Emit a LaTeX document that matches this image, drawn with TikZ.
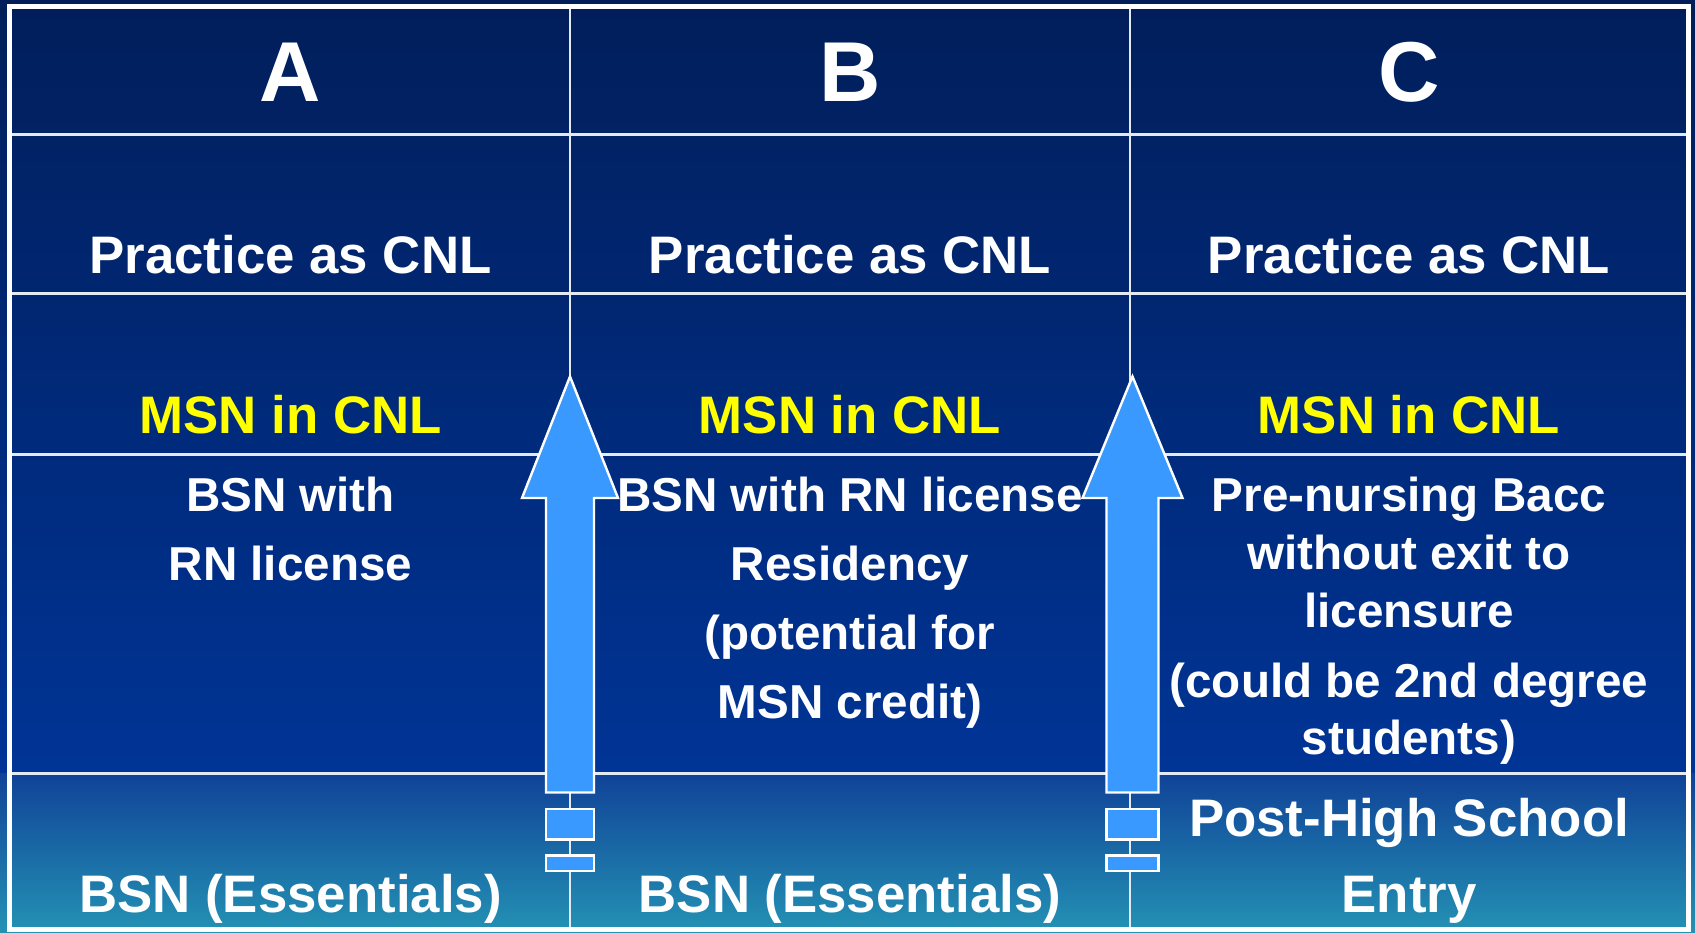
\documentclass[tikz,border=0pt]{standalone}
\usepackage{fontspec}
\setmainfont{Liberation Sans}
\definecolor{bgTop}{RGB}{1,30,90}
\definecolor{bgMid}{RGB}{0,52,150}
\definecolor{botTop}{RGB}{16,66,152}
\definecolor{botBot}{RGB}{36,146,180}
\definecolor{arrowc}{RGB}{58,153,255}
\definecolor{gridc}{RGB}{228,234,244}
\definecolor{msnyellow}{RGB}{255,255,0}
\begin{document}
\begin{tikzpicture}[x=1pt,y=-1pt,
  gridline/.style={draw=gridc, line width=2.2pt},
  arrowshape/.style={fill=arrowc, draw=white, line width=2.4pt, line join=miter},
  hdr/.style={text=white, font=\fontsize{85}{85}\selectfont\bfseries, anchor=base, inner sep=0pt},
  big/.style={text=white, font=\fontsize{52.8}{60}\selectfont\bfseries, anchor=base, inner sep=0pt},
  msn/.style={big, text=msnyellow},
  body/.style={text=white, font=\fontsize{47.6}{55}\selectfont\bfseries, anchor=base, inner sep=0pt}]

\useasboundingbox (0,0) rectangle (1695,932);
\shade[top color=bgTop, bottom color=bgMid] (0,0) rectangle (1695,774);
\shade[top color=botTop, bottom color=botBot] (0,773) rectangle (1695,932);

% grid
\foreach \yy in {134.5,293.5,454.5,773.5} {
  \draw[gridline] (11,\yy) -- (1686,\yy);
}
\foreach \xx in {570,1130} {
  \draw[gridline] (\xx,9) -- (\xx,927);
}
% frame
\draw[white, line width=5pt] (9,6.5) rectangle (1688,929.5);

% arrows
\foreach \cx/\hw/\sw in {570/48/24, 1132.5/50/26} {
  \filldraw[arrowshape] (\cx,376.5) -- (\cx+\hw,498) -- (\cx+\sw,498) -- (\cx+\sw,792.5)
     -- (\cx-\sw,792.5) -- (\cx-\sw,498) -- (\cx-\hw,498) -- cycle;
  \filldraw[arrowshape] (\cx-\sw,809) rectangle (\cx+\sw,839.5);
  \filldraw[arrowshape] (\cx-\sw,855.5) rectangle (\cx+\sw,871);
}

% headers
\node[hdr] (hA) at (290.5,101) {A};
\node[hdr] (hB) at (850,101) {B};
\node[hdr] (hC) at (1409,101) {C};

% practice row
\node[big] (pA) at (290.5,273) {Practice as CNL};
\node[big] (pB) at (850,273) {Practice as CNL};
\node[big] (pC) at (1409,273) {Practice as CNL};

% MSN row
\node[msn] (mA) at (290.5,433) {MSN in CNL};
\node[msn] (mB) at (850,433) {MSN in CNL};
\node[msn] (mC) at (1409,433) {MSN in CNL};

% body column A
\node[body] (a1) at (290.5,511) {BSN with};
\node[body] (a2) at (290.5,580) {RN license};

% body column B
\node[body] (b1) at (850,511) {BSN with RN license};
\node[body] (b2) at (850,580) {Residency};
\node[body] (b3) at (850,649) {(potential for};
\node[body] (b4) at (850,718) {MSN credit)};

% body column C
\node[body] (c1) at (1409,511) {Pre-nursing Bacc};
\node[body] (c2) at (1409,569) {without exit to};
\node[body] (c3) at (1409,627) {licensure};
\node[body] (c4) at (1409,697) {(could be 2nd degree};
\node[body] (c5) at (1409,754) {students)};

% bottom row
\node[big] (eA) at (290.5,912) {BSN (Essentials)};
\node[big] (eB) at (850,912) {BSN (Essentials)};
\node[big] (eC1) at (1409,836) {Post-High School};
\node[big] (eC2) at (1409,912) {Entry};
\end{tikzpicture}
\end{document}
